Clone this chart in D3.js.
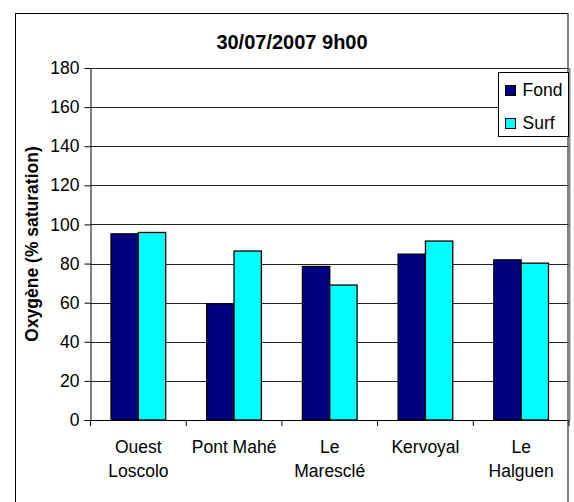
<!DOCTYPE html>
<html>
<head>
<meta charset="utf-8">
<script src="https://cdn.jsdelivr.net/npm/d3@7/dist/d3.min.js"></script>
<style>
  body { margin: 0; background: #fff; }
  text { font-family: Arial, "Liberation Sans", sans-serif; fill: #000; }
</style>
</head>
<body>
<div id="chart"></div>
<script>
const title = "30/07/2007 9h00";
const yTitle = "Oxygène (% saturation)";
const categories = ["Ouest Loscolo", "Pont Mahé", "Le Maresclé", "Kervoyal", "Le Halguen"];
const categoryLines = [["Ouest", "Loscolo"], ["Pont Mahé"], ["Le", "Maresclé"], ["Kervoyal"], ["Le", "Halguen"]];
const seriesNames = ["Fond", "Surf"];
const fond = [95.2, 59.4, 78.5, 84.8, 81.9];
const surf = [95.9, 86.4, 69.0, 91.5, 80.2];
const yTicks = [0, 20, 40, 60, 80, 100, 120, 140, 160, 180];
const colors = { Fond: "#000080", Surf: "#00ffff" };

const width = 574, height = 502;
const plot = { left: 90.5, right: 569, top: 68, bottom: 420 };

const svg = d3.select("#chart").append("svg")
    .attr("width", width)
    .attr("height", height);

// outer chart frame
svg.append("rect")
    .attr("x", 15.5).attr("y", 13.5)
    .attr("width", 552.5).attr("height", 500)
    .attr("fill", "#fff").attr("stroke", "#000");

svg.append("text")
    .attr("x", 292).attr("y", 49)
    .attr("text-anchor", "middle")
    .style("font-size", "20px").style("font-weight", "bold")
    .text(title);

const x = d3.scaleBand().domain(categories).range([plot.left, plot.right]);
const x1 = d3.scaleBand().domain(seriesNames).range([0, x.bandwidth()])
    .paddingInner(0).paddingOuter(0.75);
const y = d3.scaleLinear().domain([0, 180]).range([plot.bottom, plot.top]);

// gridlines
svg.append("g")
    .selectAll("line")
    .data(yTicks.filter(d => d > 0))
    .enter().append("line")
    .attr("x1", plot.left).attr("x2", plot.right)
    .attr("y1", d => Math.round(y(d)) + 0.5).attr("y2", d => Math.round(y(d)) + 0.5)
    .attr("stroke", "#222").attr("stroke-width", 1);

// plot area right border
svg.append("line")
    .attr("x1", plot.right + 0.5).attr("x2", plot.right + 0.5)
    .attr("y1", plot.top).attr("y2", plot.bottom)
    .attr("stroke", "#888").attr("stroke-width", 2);

// bars
const rows = categories.map((c, i) => ({ cat: c, Fond: fond[i], Surf: surf[i] }));
const groups = svg.append("g")
    .selectAll("g")
    .data(rows)
    .enter().append("g")
    .attr("transform", d => `translate(${x(d.cat)},0)`);

groups.selectAll("rect")
    .data(d => seriesNames.map(s => ({ s, v: d[s] })))
    .enter().append("rect")
    .attr("x", d => x1(d.s))
    .attr("y", d => y(d.v))
    .attr("width", x1.bandwidth())
    .attr("height", d => y(0) - y(d.v))
    .attr("fill", d => colors[d.s])
    .attr("stroke", "#000")
    .attr("stroke-width", 1.3);

// y axis
const yAxis = svg.append("g")
    .attr("transform", `translate(${plot.left},0)`)
    .call(d3.axisLeft(y).tickValues(yTicks).tickSize(6).tickPadding(5).tickSizeOuter(0));
yAxis.select(".domain").attr("stroke", "#000");
yAxis.selectAll(".tick line").attr("stroke", "#000");
yAxis.selectAll("text").style("font-size", "17.5px").attr("fill", "#000");

// x axis
const xAxis = svg.append("g")
    .attr("transform", `translate(0,${plot.bottom})`);
xAxis.append("line")
    .attr("x1", plot.left - 6).attr("x2", plot.right)
    .attr("y1", 0.5).attr("y2", 0.5)
    .attr("stroke", "#000");
xAxis.selectAll(".xtick")
    .data(categories.concat(["end"]))
    .enter().append("line")
    .attr("class", "xtick")
    .attr("x1", (d, i) => i < categories.length ? x(d) : plot.right)
    .attr("x2", (d, i) => i < categories.length ? x(d) : plot.right)
    .attr("y1", 0).attr("y2", 6)
    .attr("stroke", "#000");

const labels = xAxis.selectAll(".xlabel")
    .data(categories)
    .enter().append("text")
    .attr("class", "xlabel")
    .attr("text-anchor", "middle")
    .style("font-size", "17.5px")
    .attr("transform", d => `translate(${x(d) + x.bandwidth() / 2},0)`);
labels.selectAll("tspan")
    .data((d, i) => categoryLines[i])
    .enter().append("tspan")
    .attr("x", 0)
    .attr("y", (d, i) => 33 + i * 24)
    .text(d => d);

// y title
svg.append("text")
    .attr("transform", `translate(38,${(plot.top + plot.bottom) / 2}) rotate(-90)`)
    .attr("text-anchor", "middle")
    .style("font-size", "17.5px").style("font-weight", "bold")
    .text(yTitle);

// legend
const legend = svg.append("g").attr("transform", "translate(498.5,72.5)");
legend.append("rect")
    .attr("width", 70).attr("height", 64)
    .attr("fill", "#fff").attr("stroke", "#000");
const items = legend.selectAll(".item")
    .data(seriesNames)
    .enter().append("g")
    .attr("class", "item")
    .attr("transform", (d, i) => `translate(7,${13 + i * 33})`);
items.append("rect")
    .attr("width", 10).attr("height", 10)
    .attr("fill", d => colors[d]).attr("stroke", "#000");
items.append("text")
    .attr("x", 17).attr("y", 10)
    .style("font-size", "17.5px")
    .text(d => d);
</script>
</body>
</html>
